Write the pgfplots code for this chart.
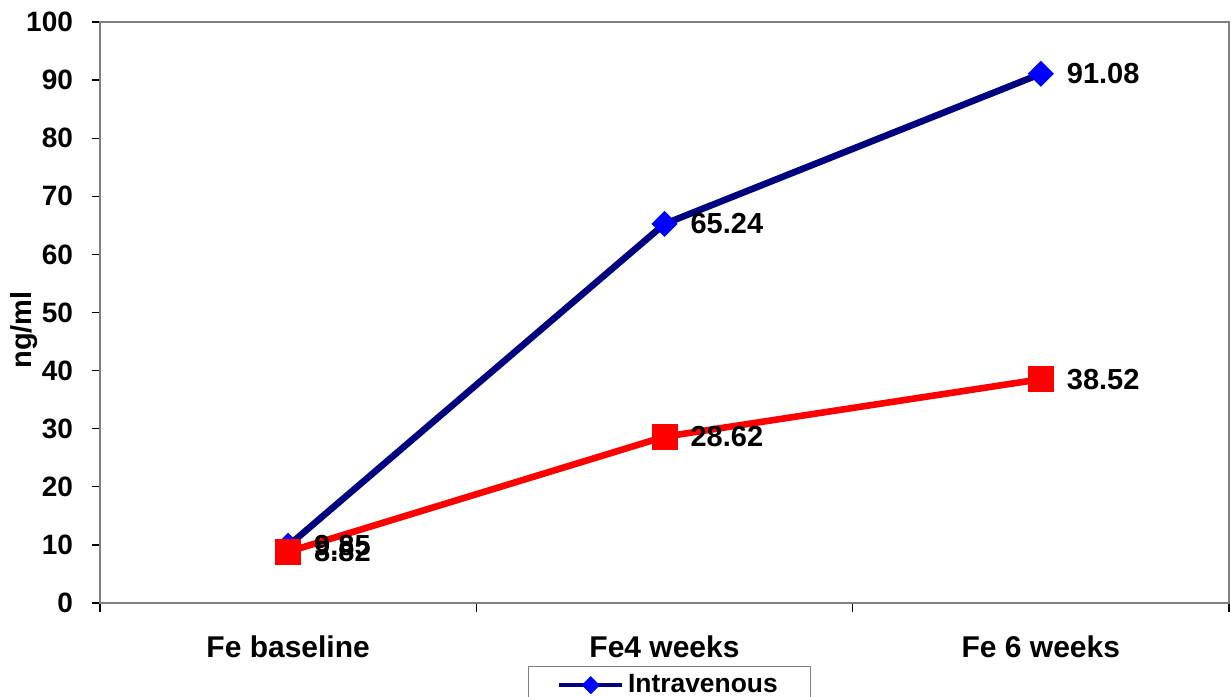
\documentclass[border=0pt]{standalone}
\usepackage{fontspec}
\setmainfont{Liberation Sans}
\usepackage{pgfplots}
\pgfplotsset{compat=1.18}
\definecolor{ivnavy}{RGB}{0,0,128}
\definecolor{ivblue}{RGB}{0,0,255}
\definecolor{orred}{RGB}{255,0,0}

\begin{document}
\begin{tikzpicture}
\begin{axis}[
	at={(0,0)}, anchor=south west,
	scale only axis,
	width=564.5pt, height=290.5pt,
	xmin=-0.5, xmax=2.5,
	ymin=0, ymax=100,
	clip=false,
	axis x line*=bottom, axis y line*=left,
	axis line style={line width=1pt, black, -},
	ytick={0,10,...,100},
	xtick={0,1,2},
	xticklabels={Fe baseline, Fe4 weeks, Fe 6 weeks},
	minor xtick={-0.5,0.5,1.5,2.5},
	tick align=outside,
	major tick length=4pt,
	minor tick length=4.5pt,
	tick style={black, line width=0.6pt},
	major x tick style={draw=none},
	/pgf/number format/assume math mode=true,
	yticklabel style={xshift=-6pt, font=\bfseries\fontsize{14}{16}\selectfont},
	xticklabel style={yshift=-9pt, font=\bfseries\fontsize{15}{17}\selectfont},
	ylabel={ng/ml},
	ylabel style={font=\bfseries\fontsize{14.5}{16}\selectfont,
		at={(axis description cs:-0.067,0.47)}, anchor=center},
	nodes near coords,
	point meta=explicit symbolic,
	nodes near coords style={anchor=west, xshift=9.5pt, black,
		font=\bfseries\fontsize{14.5}{16}\selectfont},
	legend style={at={(axis description cs:0.379,-0.1084)}, anchor=north west,
		draw=gray, line width=0.6pt, inner xsep=14.5pt,
		font=\bfseries\fontsize{13.2}{15}\selectfont},
	legend image code/.code={
		\draw[line width=2pt, mark size=3pt, mark repeat=2, mark phase=2]
			plot coordinates {(0cm,0cm) (0.55cm,0cm) (1.1cm,0cm)};},
]
\draw[gray, line width=1pt] (rel axis cs:0,0) rectangle (rel axis cs:1,1);

% Intravenous
\addplot[ivnavy, line width=3.3pt, mark=square*, mark size=4.4pt,
	mark options={fill=ivblue, draw=ivblue, rotate=45, line width=0.4pt}]
	coordinates {(0,9.85) [9.85] (1,65.24) [65.24] (2,91.08) [91.08]};
\addlegendentry{Intravenous\rule[-14pt]{0pt}{0pt}}

% second group (its legend entry is cut off in the original)
\addplot[orred, line width=3.3pt, mark=square*, mark size=6.3pt,
	mark options={fill=orred, draw=orred, line width=0.4pt}, forget plot]
	coordinates {(0,8.82) [8.82] (1,28.62) [28.62] (2,38.52) [38.52]};
\end{axis}
\pgfresetboundingbox
\path[use as bounding box] (-50pt,-46.5pt) rectangle (565.5pt,301.5pt);
\end{tikzpicture}
\end{document}
